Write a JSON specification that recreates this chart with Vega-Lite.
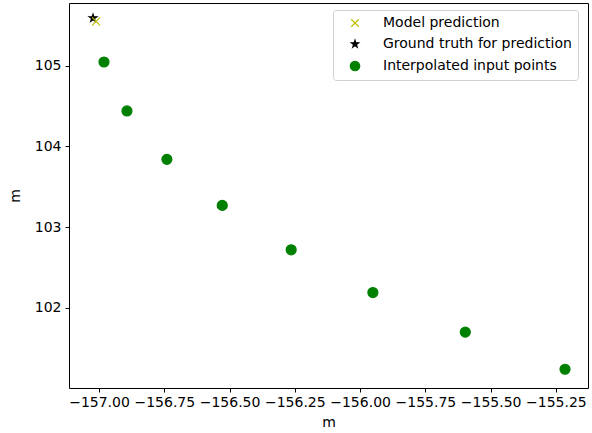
{
  "$schema": "https://vega.github.io/schema/vega-lite/v6.json",
  "width": 519,
  "height": 385,
  "autosize": "none",
  "padding": {"left": 69, "top": 3, "right": 4, "bottom": 45},
  "background": "white",
  "config": {
    "font": "DejaVu Sans",
    "view": {"stroke": "black", "strokeWidth": 1},
    "axis": {
      "grid": false,
      "domain": false,
      "tickColor": "black",
      "tickSize": 4,
      "labelFontSize": 14,
      "labelColor": "black",
      "titleFontSize": 14,
      "titleFontWeight": "normal",
      "titleColor": "black"
    },
    "legend": {
      "orient": "none", "legendX": 264, "legendY": 7,
      "labelFontSize": 14, "labelColor": "black", "labelLimit": 400, "symbolSize": 90,
      "rowPadding": 7, "labelOffset": 21, "padding": 6, "symbolOffset": 9,
      "strokeColor": "#d0d0d0", "cornerRadius": 3, "fillColor": "white", "symbolStrokeWidth": 1.2
    }
  },
  "data": {
    "values": [
      {"series": "Ground truth for prediction", "x": -157.023, "y": 105.59},
      {"series": "Model prediction", "x": -157.011, "y": 105.55},
      {"series": "Interpolated input points", "x": -156.981, "y": 105.046},
      {"series": "Interpolated input points", "x": -156.893, "y": 104.44},
      {"series": "Interpolated input points", "x": -156.74, "y": 103.84},
      {"series": "Interpolated input points", "x": -156.528, "y": 103.27},
      {"series": "Interpolated input points", "x": -156.264, "y": 102.72},
      {"series": "Interpolated input points", "x": -155.951, "y": 102.19},
      {"series": "Interpolated input points", "x": -155.597, "y": 101.7},
      {"series": "Interpolated input points", "x": -155.215, "y": 101.24}
    ]
  },
  "mark": {"type": "point", "size": 100, "opacity": 1, "strokeWidth": 1.2},
  "encoding": {
    "x": {
      "field": "x", "type": "quantitative",
      "scale": {"domain": [-157.115, -155.127], "zero": false, "nice": false},
      "axis": {"values": [-157, -156.75, -156.5, -156.25, -156, -155.75, -155.5, -155.25], "labelExpr": "replace(format(datum.value, '.2f'), '-', '−')", "title": "m", "labelPadding": 3, "titlePadding": 6}
    },
    "y": {
      "field": "y", "type": "quantitative",
      "scale": {"domain": [101.008, 105.777], "zero": false, "nice": false},
      "axis": {"values": [102, 103, 104, 105], "format": "d", "title": "m", "labelPadding": 4, "titlePadding": 12}
    },
    "fill": {
      "field": "series", "type": "nominal",
      "scale": {"domain": ["Model prediction", "Ground truth for prediction", "Interpolated input points"], "range": ["rgba(0,0,0,0)", "black", "green"]},
      "legend": {"title": null}
    },
    "stroke": {
      "field": "series", "type": "nominal",
      "scale": {"domain": ["Model prediction", "Ground truth for prediction", "Interpolated input points"], "range": ["#bfbf00", "black", "green"]},
      "legend": {"title": null}
    },
    "shape": {
      "field": "series", "type": "nominal",
      "scale": {"domain": ["Model prediction", "Ground truth for prediction", "Interpolated input points"], "range": ["M-0.8,-0.8L0.8,0.8M0.8,-0.8L-0.8,0.8", "M0,-0.8L0.18,-0.247L0.761,-0.247L0.29,0.094L0.47,0.647L0,0.306L-0.47,0.647L-0.29,0.094L-0.761,-0.247L-0.18,-0.247Z", "circle"]},
      "legend": {"title": null}
    }
  }
}
